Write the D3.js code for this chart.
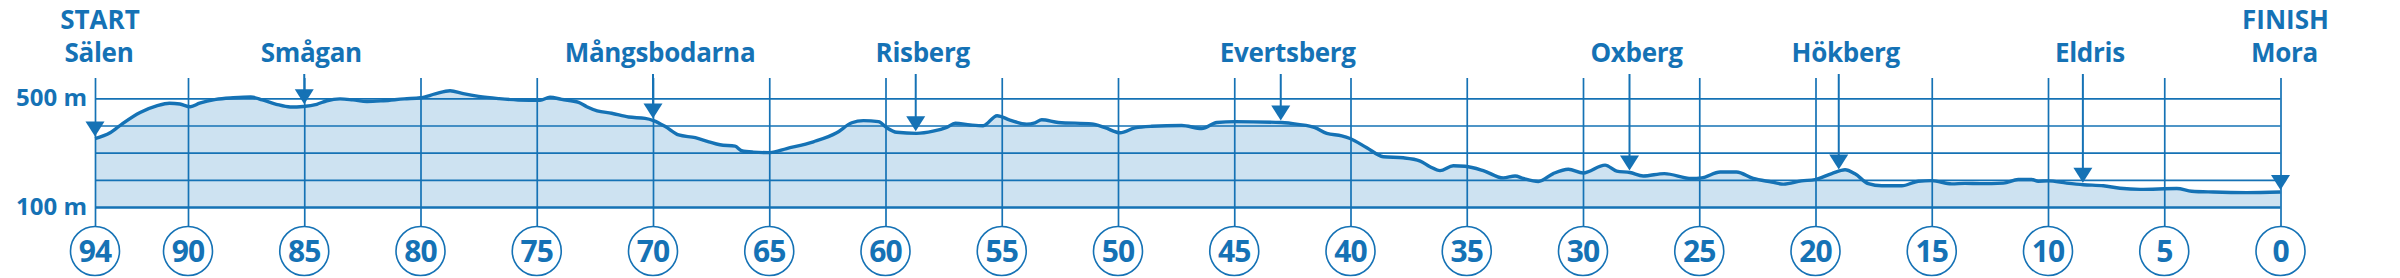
<!DOCTYPE html>
<html>
<head>
<meta charset="utf-8">
<script src="https://cdn.jsdelivr.net/npm/d3@7"></script>
<style>
    html, body { margin: 0; padding: 0; background: #fff; }
    svg { display: block; }
    text { font-family: "Open Sans", "Noto Sans", sans-serif; font-weight: 700; fill: #1572b5; }
</style>
</head>
<body>
<div id="chart"></div>
<script>
(function(){

    "use strict";

    //-> distance left to Mora (km) and elevation (m) read along the profile
    var kmLeft = [94, 93.35, 92.8, 92.06, 91.35, 90.8, 90.35, 89.9, 89.5, 88.8, 88.05, 87.3, 86.8, 86.2, 85.6, 85.04,
        84.46, 84.03, 83.46, 82.9, 82.3, 81.6, 80.7, 80.0, 79.37, 78.73, 78.16, 77.5, 76.65, 75.8, 74.86, 74.43,
        73.93, 73.2, 72.85, 72.4, 71.78, 71.05, 70.34, 69.98, 69.47, 68.9, 68.18, 67.6, 67.12, 66.47, 66.19, 65.69,
        64.97, 64.25, 63.1, 62.1, 61.45, 60.95, 60.3, 59.95, 59.52, 58.66, 57.95, 57.37, 57.0, 56.36, 55.8, 55.2,
        54.65, 53.93, 53.57, 53.28, 52.57, 51.13, 50.56, 49.91, 49.27, 48.55, 47.26, 46.4, 45.75, 44.97, 42.96, 42.25,
        41.53, 41.02, 40.38, 40.02, 39.3, 38.59, 37.73, 37.0, 36.58, 36.15, 35.58, 35.07, 34.29, 33.43, 32.92, 32.57,
        31.92, 31.28, 30.63, 29.99, 29.05, 28.55, 27.98, 27.41, 26.5, 25.33, 24.9, 24.1, 23.4, 22.68, 21.88, 21.38,
        20.6, 20.02, 19.3, 18.73, 18.3, 17.73, 17.15, 16.29, 15.58, 15.0, 14.14, 13.57, 12.92, 11.92, 11.28, 10.7,
        10.42, 9.99, 9.2, 8.48, 7.62, 6.9, 6.04, 4.46, 3.82, 2.89, 1.45, 0];
    var elevation = [352, 373, 408, 448, 472, 482, 479, 469, 482, 496, 502, 505, 494, 478, 468, 470,
        478, 491, 498, 494, 488, 491, 498, 502, 516, 528, 517, 507, 499, 494, 493, 504,
        496, 485, 469, 454, 445, 431, 426, 418, 396, 365, 355, 340, 329, 324, 307, 302,
        300, 315, 340, 373, 410, 418, 414, 392, 375, 371, 379, 393, 408, 402, 399, 436,
        420, 405, 410, 421, 411, 406, 392, 373, 391, 397, 400, 389, 411, 414, 411, 404,
        392, 371, 362, 352, 318, 285, 281, 269, 248, 234, 252, 250, 234, 207, 214, 205,
        194, 223, 239, 225, 254, 232, 227, 214, 223, 205, 207, 229, 229, 205, 192, 184,
        196, 201, 223, 237, 222, 186, 178, 178, 195, 197, 185, 187, 186, 188, 201, 201,
        195, 196, 188, 182, 178, 169, 165, 168, 158, 155, 153, 155];

    //-> km ticks in circles, elevation grid, y labels
    var kmTicks = [94, 90, 85, 80, 75, 70, 65, 60, 55, 50, 45, 40, 35, 30, 25, 20, 15, 10, 5, 0];
    var elevGrid = [100, 200, 300, 400, 500];
    var elevLabels = [500, 100];

    //-> control points along the track
    var stationNames = ["Smågan", "Mångsbodarna", "Risberg", "Evertsberg", "Oxberg", "Hökberg", "Eldris"];
    var stationKm = [85.0, 70.0, 58.7, 43.0, 28.0, 19.0, 8.5];
    var endNames = [["START", "Sälen"], ["FINISH", "Mora"]];
    var endKm = [94, 0];

    var width = 2400,
        height = 278,
        blue = "#1572b5",
        fillBlue = "#cde2f1";

    var data = kmLeft.map(function(k, i) { return {km: k, elev: elevation[i]}; });

    var x = d3.scaleLinear().domain([94, 0]).range([95, 2280.5]),
        y = d3.scaleLinear().domain([100, 500]).range([207, 98.3]);

    var svg = d3.select("#chart").append("svg")
        .attr("width", width)
        .attr("height", height);

    //-> elevation at a given km, read from the profile
    var elevAt = function(k) {
        for (var i = 1; i < data.length; i++) {
            if (data[i].km <= k) {
                var a = data[i - 1], b = data[i];
                var t = (a.km - k) / (a.km - b.km);
                return a.elev + t * (b.elev - a.elev);
            }
        }
        return data[data.length - 1].elev;
    };

    //-> filled area under the profile
    var area = d3.area()
        .x(function(d) { return x(d.km); })
        .y0(y(100))
        .y1(function(d) { return y(d.elev); })
        .curve(d3.curveMonotoneX);

    svg.append("path")
        .datum(data)
        .attr("fill", fillBlue)
        .attr("d", area);

    //-> horizontal grid
    svg.append("g")
        .attr("class", "yGrid")
        .call(d3.axisLeft(y).tickValues(elevGrid).tickSize(-(x(0) - x(94))).tickFormat(""))
        .attr("transform", "translate(" + x(94) + ",0)")
        .call(function(g) {
            g.select(".domain").remove();
            g.selectAll("line").attr("stroke", blue).attr("stroke-width", function(d) { return d === 100 ? 2.4 : 1.7; });
        });

    //-> vertical km lines
    svg.append("g")
        .attr("class", "xGrid")
        .attr("transform", "translate(0,78)")
        .call(d3.axisBottom(x).tickValues(kmTicks).tickSize(149).tickFormat(""))
        .call(function(g) {
            g.select(".domain").remove();
            g.selectAll("line").attr("stroke", blue).attr("stroke-width", 1.7);
        });

    //-> profile line
    var line = d3.line()
        .x(function(d) { return x(d.km); })
        .y(function(d) { return y(d.elev); })
        .curve(d3.curveMonotoneX);

    svg.append("path")
        .datum(data)
        .attr("fill", "none")
        .attr("stroke", blue)
        .attr("stroke-width", 3.4)
        .attr("stroke-linejoin", "round")
        .attr("d", line);

    //-> km circles
    var ticks = svg.append("g").attr("class", "kmTicks")
        .selectAll("g")
        .data(kmTicks)
        .enter().append("g")
        .attr("transform", function(d) { return "translate(" + x(d) + ",251)"; });

    ticks.append("circle")
        .attr("r", 24.5)
        .attr("fill", "#fff")
        .attr("stroke", blue)
        .attr("stroke-width", 1.6);

    ticks.append("text")
        .attr("text-anchor", "middle")
        .attr("y", 10.5)
        .style("font-size", "30px")
        .style("letter-spacing", "-1px")
        .text(function(d) { return d; });

    //-> elevation labels
    svg.selectAll(".elevLabel")
        .data(elevLabels)
        .enter().append("text")
        .attr("class", "elevLabel")
        .attr("text-anchor", "end")
        .attr("x", 87)
        .attr("y", function(d) { return y(d) + 8; })
        .style("font-size", "24px")
        .text(function(d) { return d + " m"; });

    //-> triangle marker with its tip on the profile
    var tri = function(g, k) {
        var cx = x(k), tip = y(elevAt(k)) - 2;
        g.append("path")
            .attr("fill", blue)
            .attr("d", "M" + (cx - 9.5) + "," + (tip - 15) + "L" + (cx + 9.5) + "," + (tip - 15) + "L" + cx + "," + tip + "Z");
        return tip;
    };

    var stations = svg.append("g").attr("class", "stations");
    stationNames.forEach(function(name, i) {
        var k = stationKm[i], g = stations.append("g");
        var tip = tri(g, k);
        g.append("line")
            .attr("x1", x(k)).attr("x2", x(k))
            .attr("y1", 74).attr("y2", tip - 12)
            .attr("stroke", blue)
            .attr("stroke-width", 2);
        g.append("text")
            .attr("text-anchor", "middle")
            .attr("x", x(k) + 7)
            .attr("y", 62)
            .style("font-size", "26px")
            .style("letter-spacing", "-0.3px")
            .text(name);
    });

    //-> start and finish
    endNames.forEach(function(names, i) {
        var k = endKm[i], g = stations.append("g");
        tri(g, k);
        g.append("text")
            .attr("text-anchor", "middle")
            .attr("x", x(k) + 5)
            .attr("y", 28.5)
            .style("font-size", "26px")
            .text(names[0]);
        g.append("text")
            .attr("text-anchor", "middle")
            .attr("x", x(k) + 4)
            .attr("y", 62)
            .style("font-size", "26px")
            .style("letter-spacing", "-0.3px")
            .text(names[1]);
    });

})();
</script>
</body>
</html>
